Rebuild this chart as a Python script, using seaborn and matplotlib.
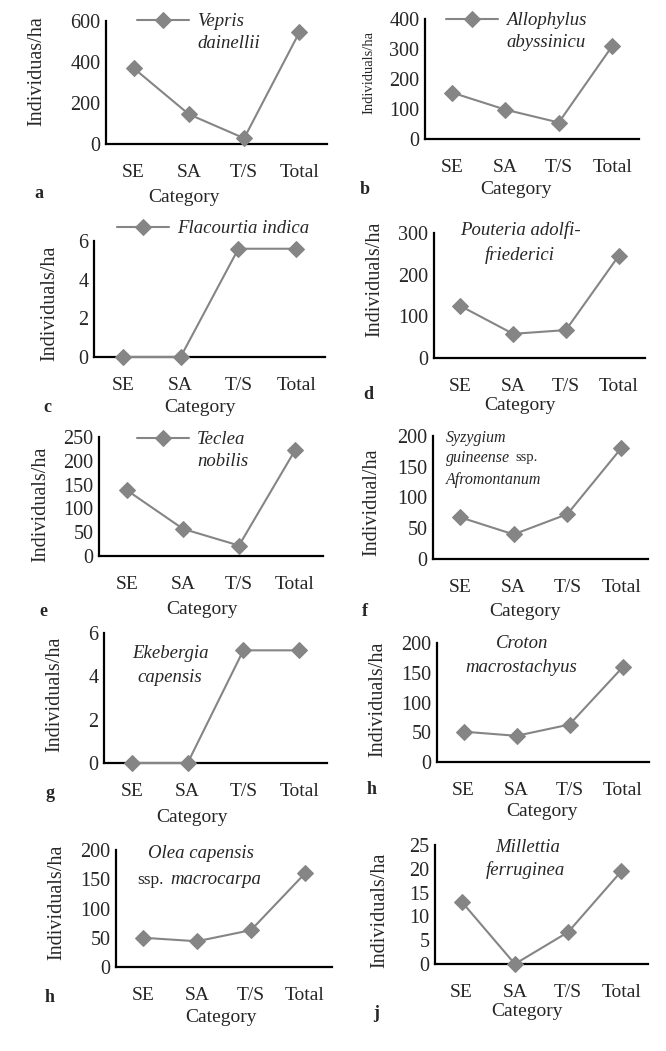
import matplotlib
matplotlib.use("Agg")
import matplotlib.pyplot as plt
from matplotlib.lines import Line2D
import seaborn as sns
import pandas as pd

categories = ["SE", "SA", "T/S", "Total"]

vepris = [370, 145, 28, 545]
allophylus = [155, 98, 55, 310]
flacourtia = [0, 0, 5.6, 5.6]
pouteria = [125, 58, 67, 245]
teclea = [138, 57, 22, 222]
syzygium = [68, 40, 73, 180]
ekebergia = [0, 0, 5.2, 5.2]
croton = [51, 44, 63, 159]
olea = [50, 44, 63, 160]
millettia = [13.1, 0, 6.7, 19.5]

W, H = 666, 1051
GRAY = "#858585"
SERIF = "Liberation Serif"

sns.set_style("white")
plt.rcParams["font.family"] = [SERIF, "DejaVu Serif"]

fig = plt.figure(figsize=(W / 100, H / 100), dpi=100)


def fpos(x, y):
    return x / W, 1 - y / H


# panel: values, ymax, ystep, axes box (left, top, right, bottom px), ylabel, ylabel size,
#        ylabel pos, Category pos, letter, letter pos
panels = [
    (vepris, 600, 200, (106, 21, 327, 144), "Individuas/ha", 14.5, (37, 71), (184, 197), "a", (39, 194)),
    (allophylus, 400, 100, (425, 19, 639, 139), "Individuals/ha", 10.5, (369, 72), (516, 190), "b", (365, 190)),
    (flacourtia, 6, 2, (94, 241, 325, 357), "Individuals/ha", 14.5, (50, 303), (200, 408), "c", (47, 407)),
    (pouteria, 300, 100, (434, 233, 645, 358), "Individuals/ha", 14.5, (375, 279), (520, 405), "d", (368, 395)),
    (teclea, 250, 50, (99, 437, 323, 556), "Individuals/ha", 14.5, (41, 504), (202, 610), "e", (43, 612)),
    (syzygium, 200, 50, (433, 436, 648, 559), "Individual/ha", 14.5, (372, 502), (525, 611), "f", (365, 612)),
    (ekebergia, 6, 2, (104, 633, 327, 763), "Individuals/ha", 14.5, (55, 694), (192, 817), "g", (50, 793)),
    (croton, 200, 50, (437, 643, 649, 762), "Individuals/ha", 14.5, (378, 699), (542, 812), "h", (372, 790)),
    (olea, 200, 50, (116, 850, 332, 967), "Individuals/ha", 14.5, (57, 902), (221, 1018), "h", (50, 997)),
    (millettia, 25, 5, (435, 845, 648, 964), "Individuals/ha", 14.5, (380, 910), (527, 1012), "j", (376, 1013)),
]

axes = []
for vals, ymax, ystep, box, ylab, ysize, ypos, cpos, letter, lpos in panels:
    L, T, R, B = box
    ax = fig.add_axes([L / W, 1 - B / H, (R - L) / W, (B - T) / H])
    df = pd.DataFrame({"Category": categories, "Value": vals})
    sns.lineplot(data=df, x="Category", y="Value", ax=ax, sort=False, color=GRAY,
                 marker="D", markersize=8, markeredgecolor=GRAY, linewidth=1.5)
    for ln in ax.lines:
        ln.set_clip_on(False)
        ln.set_zorder(5)
    ax.set_xlim(-0.5, 3.5)
    ax.set_ylim(0, ymax)
    ax.set_yticks(range(0, ymax + 1, ystep))
    ax.set_xticks(range(4))
    ax.set_xticklabels(categories)
    ax.set_xticks([-0.5, 0.5, 1.5, 2.5, 3.5], minor=True)
    ax.tick_params(axis="x", which="major", length=0, pad=14.5, labelsize=14)
    ax.tick_params(axis="x", which="minor", direction="in", length=5, width=1.5, color="black")
    ax.tick_params(axis="y", which="major", direction="in", length=5, width=1.5,
                   color="black", pad=4, labelsize=14.5)
    ax.set_xlabel("")
    ax.set_ylabel("")
    for s in ["top", "right"]:
        ax.spines[s].set_visible(False)
    for s in ["left", "bottom"]:
        ax.spines[s].set_color("black")
        ax.spines[s].set_linewidth(1.6)
    ax.patch.set_alpha(0)
    fig.text(*fpos(*ypos), ylab, rotation=90, ha="center", va="center", fontsize=ysize)
    fig.text(*fpos(*cpos), "Category", ha="center", va="center", fontsize=14)
    fig.text(*fpos(*lpos), letter, ha="center", va="center", fontsize=13, fontweight="bold")
    axes.append(ax)

# legend-style labels (panels a, b, c, e)
blank = Line2D([], [], alpha=0)
legend_specs = [
    (0, ["Vepris", "dainellii"], (137, 21)),
    (1, ["Allophylus", "abyssinicu"], (446, 20)),
    (2, ["Flacourtia indica"], (117, 228)),
    (4, ["Teclea", "nobilis"], (137, 439)),
]
for idx, labels, (hx, hy) in legend_specs:
    ax = axes[idx]
    handles = [ax.lines[0]] + [blank] * (len(labels) - 1)
    ax.legend(handles=handles, labels=labels, loc="upper left",
              bbox_to_anchor=fpos(hx, hy - 8), bbox_transform=fig.transFigure,
              frameon=False, borderpad=0, borderaxespad=0, handlelength=2.75,
              handletextpad=0.45, labelspacing=0.25,
              prop={"family": SERIF, "style": "italic", "size": 13.5})

# species names written inside the plot area
it = {"style": "italic", "fontsize": 13.5}
fig.text(*fpos(520, 230), "Pouteria adolfi-", ha="center", va="center", **it)
fig.text(*fpos(520, 255), "friederici", ha="center", va="center", **it)

fig.text(*fpos(446, 438), "Syzygium", ha="left", va="center", style="italic", fontsize=11.5)
fig.text(*fpos(446, 458), "guineense", ha="left", va="center", style="italic", fontsize=11.5)
fig.text(*fpos(515, 458), "ssp.", ha="left", va="center", fontsize=10.5)
fig.text(*fpos(446, 480), "Afromontanum", ha="left", va="center", style="italic", fontsize=11.5)

fig.text(*fpos(170, 653), "Ekebergia", ha="center", va="center", **it)
fig.text(*fpos(170, 678), "capensis", ha="center", va="center", **it)

fig.text(*fpos(522, 643), "Croton", ha="center", va="center", **it)
fig.text(*fpos(521, 667), "macrostachyus", ha="center", va="center", **it)

fig.text(*fpos(201, 853), "Olea capensis", ha="center", va="center", **it)
fig.text(*fpos(137, 880), "ssp.", ha="left", va="center", fontsize=12.5)
fig.text(*fpos(170, 880), "macrocarpa", ha="left", va="center", **it)

fig.text(*fpos(528, 847), "Millettia", ha="center", va="center", **it)
fig.text(*fpos(525, 870), "ferruginea", ha="center", va="center", **it)

fig.savefig("out.png", dpi=100)
